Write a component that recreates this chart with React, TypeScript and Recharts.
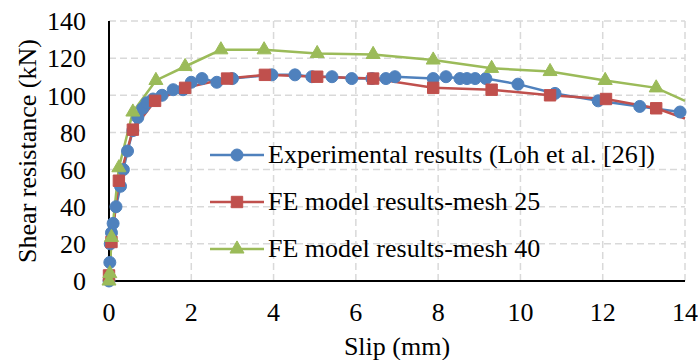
import { LineChart, Line, XAxis, YAxis, CartesianGrid, Legend, Label, Symbols } from 'recharts';

// Experimental results (Loh et al.)
const expSlip = [0, 0.02, 0.03, 0.06, 0.1, 0.17, 0.28, 0.35, 0.45, 0.58, 0.7, 0.82, 0.92, 1.07, 1.29, 1.56, 1.8, 2.0, 2.26, 2.62, 3.0, 3.96, 4.52, 4.93, 5.42, 5.9, 6.39, 6.73, 6.95, 7.88, 8.19, 8.53, 8.7, 8.9, 9.16, 9.94, 10.84, 11.89, 12.9, 13.88];
const expLoad = [0, 10, 20, 26, 31, 40, 51, 60, 70, 81, 88, 93, 96, 98, 100, 103, 103, 107, 109, 107, 109, 111, 111, 110, 110, 109, 109, 109, 110, 109, 110, 109, 109, 109, 109, 106, 101, 97, 94, 91];

// FE model, mesh 25 (last value is where the line meets the axis end)
const mesh25Slip = [0, 0.06, 0.24, 0.58, 1.12, 1.85, 2.87, 3.79, 5.06, 6.42, 7.88, 9.3, 10.72, 12.08, 13.3, 14];
const mesh25Load = [3, 21, 54, 81.5, 97, 104, 109, 111, 110, 109, 104, 103, 100, 98, 93, 87.5];

// FE model, mesh 40
const mesh40Slip = [0, 0.02, 0.06, 0.24, 0.58, 1.14, 1.85, 2.72, 3.77, 5.06, 6.42, 7.88, 9.3, 10.72, 12.06, 13.3, 14];
const mesh40Load = [0, 4, 23.5, 61, 91, 108, 115.5, 124.5, 124.5, 122.5, 122, 119, 114.5, 112.8, 108, 104, 97];

const xTicks = [0, 2, 4, 6, 8, 10, 12, 14];
const yTicks = [0, 20, 40, 60, 80, 100, 120, 140];
const X_MAX = 14;

const colors = {
  exp: '#4F81BD',
  mesh25: '#C0504D',
  mesh40: '#9BBB59',
  grid: '#d9d9d9',
  text: '#000000',
};

const FONT = '"Liberation Serif", "Times New Roman", serif';
const textStyle = { fontFamily: FONT, fontSize: 26 };

const toPoints = (xs: number[], ys: number[]) => xs.map((x, i) => ({ x, y: ys[i] }));

const expData = toPoints(expSlip, expLoad);
const mesh25Data = toPoints(mesh25Slip, mesh25Load);
const mesh40Data = toPoints(mesh40Slip, mesh40Load);

type Shape = 'circle' | 'square' | 'triangle';
const markerSize: Record<Shape, number> = { circle: 113, square: 130, triangle: 85 };

const makeDot = (shape: Shape, color: string) => (props: any) => {
  const { cx, cy, payload, index } = props;
  if (payload.x >= X_MAX && shape !== 'circle') return <g key={index} />;
  return <Symbols key={index} cx={cx} cy={cy} type={shape} size={markerSize[shape]} fill={color} stroke={color} />;
};

const legendItems: { name: string; color: string; shape: Shape }[] = [
  { name: 'Experimental results (Loh et al. [26])', color: colors.exp, shape: 'circle' },
  { name: 'FE model results-mesh 25', color: colors.mesh25, shape: 'square' },
  { name: 'FE model results-mesh 40', color: colors.mesh40, shape: 'triangle' },
];

function ChartLegend() {
  return (
    <div style={{ ...textStyle, color: colors.text }}>
      {legendItems.map((item) => (
        <div key={item.name} style={{ display: 'flex', alignItems: 'center', height: 47 }}>
          <svg width={54} height={20}>
            <line x1={0} y1={10} x2={54} y2={10} stroke={item.color} strokeWidth={2.5} />
            <Symbols cx={27} cy={10} type={item.shape} size={markerSize[item.shape]} fill={item.color} stroke={item.color} />
          </svg>
          <span style={{ marginLeft: 4, whiteSpace: 'nowrap' }}>{item.name}</span>
        </div>
      ))}
    </div>
  );
}

export default function App() {
  const tickStyle = { fill: colors.text, fontSize: 26, style: textStyle };
  return (
    <div style={{ position: 'absolute', left: 0, top: 0, background: '#fff', fontFamily: FONT }}>
      <LineChart width={698} height={360} margin={{ top: 21, right: 13, left: 0, bottom: 0 }} style={{ fontFamily: FONT }}>
        <CartesianGrid stroke={colors.grid} strokeWidth={1.5} strokeDasharray="7 4" />
        <XAxis
          type="number"
          dataKey="x"
          domain={[0, X_MAX]}
          ticks={xTicks}
          height={79}
          tick={tickStyle}
          tickLine={false}
          tickMargin={16}
          axisLine={{ stroke: '#000', strokeWidth: 2 }}
        >
          <Label value="Slip (mm)" position="insideBottom" offset={5} fill={colors.text} fontSize={26} style={textStyle} />
        </XAxis>
        <YAxis
          type="number"
          dataKey="y"
          domain={[0, 140]}
          ticks={yTicks}
          width={109}
          tick={tickStyle}
          tickLine={false}
          tickMargin={17}
          axisLine={{ stroke: '#000', strokeWidth: 2 }}
        >
          <Label
            content={({ viewBox }: any) => {
              const cy = viewBox.y + viewBox.height / 2;
              return (
                <text
                  x={27}
                  y={cy}
                  dy={9}
                  transform={`rotate(-90, 27, ${cy})`}
                  textAnchor="middle"
                  fill={colors.text}
                  style={textStyle}
                >
                  Shear resistance (kN)
                </text>
              );
            }}
          />
        </YAxis>
        <Legend
          layout="vertical"
          align="center"
          verticalAlign="middle"
          wrapperStyle={{ left: 210, top: 131, width: 'auto' }}
          content={() => <ChartLegend />}
        />
        <Line
          data={expData}
          dataKey="y"
          name="Experimental results (Loh et al. [26])"
          stroke={colors.exp}
          strokeWidth={2.5}
          dot={makeDot('circle', colors.exp)}
          isAnimationActive={false}
        />
        <Line
          data={mesh25Data}
          dataKey="y"
          name="FE model results-mesh 25"
          stroke={colors.mesh25}
          strokeWidth={2.5}
          dot={makeDot('square', colors.mesh25)}
          isAnimationActive={false}
        />
        <Line
          data={mesh40Data}
          dataKey="y"
          name="FE model results-mesh 40"
          stroke={colors.mesh40}
          strokeWidth={2.5}
          dot={makeDot('triangle', colors.mesh40)}
          isAnimationActive={false}
        />
      </LineChart>
    </div>
  );
}
